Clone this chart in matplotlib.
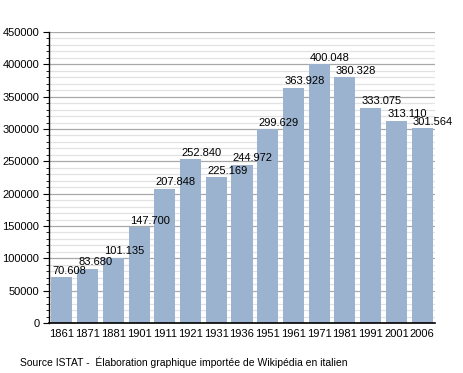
import numpy as np
import matplotlib
matplotlib.use("Agg")
import matplotlib.pyplot as plt
from matplotlib.ticker import MultipleLocator

plt.rcParams['font.family'] = ['Liberation Sans', 'DejaVu Sans']

years = ['1861', '1871', '1881', '1901', '1911', '1921', '1931', '1936',
         '1951', '1961', '1971', '1981', '1991', '2001', '2006']
population = [70608, 83680, 101135, 147700, 207848, 252840, 225169, 244972,
              299629, 363928, 400048, 380328, 333075, 313110, 301564]

fig = plt.figure(figsize=(4.64, 3.73), dpi=100)
ax = fig.add_axes([49 / 464, 1 - 323 / 373, 386 / 464, 291 / 373])

x = np.arange(len(years))
bars = ax.bar(x, population, width=0.82, color='#9bb3cf', zorder=2)

ax.set_xlim(-0.5, len(years) - 0.5)
ax.set_ylim(0, 450000)
ax.yaxis.set_major_locator(MultipleLocator(50000))
ax.yaxis.set_minor_locator(MultipleLocator(10000))
ax.grid(axis='y', which='major', color='#a8a8a8', linewidth=0.9, zorder=0)
ax.grid(axis='y', which='minor', color='#e2e2e2', linewidth=0.9, zorder=0)

ax.set_xticks(x)
ax.set_xticklabels(years, fontsize=8)
ax.tick_params(axis='x', length=0, pad=4)
ax.tick_params(axis='y', which='major', length=4, labelsize=8, pad=3)
ax.tick_params(axis='y', which='minor', length=2.5)

for s in ['top', 'right']:
    ax.spines[s].set_visible(False)
ax.spines['left'].set_linewidth(1)
ax.spines['bottom'].set_linewidth(1.2)

# value labels, italian style thousands separator
for rect, v in zip(bars, population):
    label = f'{v:,}'.replace(',', '.')
    ax.annotate(label, xy=(rect.get_x(), rect.get_height()),
                xytext=(1, 1), textcoords='offset points',
                ha='left', va='bottom', fontsize=8, zorder=3)

fig.text(20 / 464, 1 - 362 / 373, 'Source ISTAT -  Élaboration graphique importée de Wikipédia en italien',
         fontsize=7.5, va='center', ha='left')

fig.savefig('out.png', dpi=100)
